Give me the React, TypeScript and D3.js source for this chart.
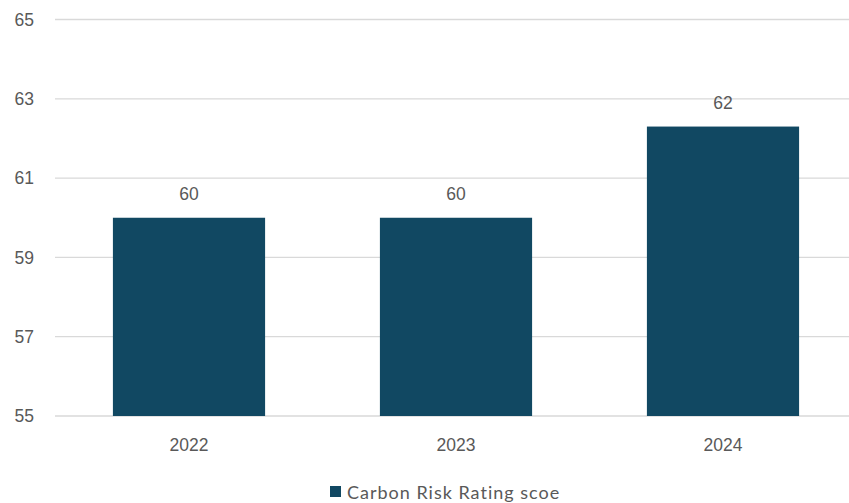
import React from "react";
import * as d3 from "d3";

const years = ["2022", "2023", "2024"];
const scores = [60, 60, 62.3];
const labels = ["60", "60", "62"];
const yTicks = [55, 57, 59, 61, 63, 65];
const seriesName = "Carbon Risk Rating scoe";

const W = 849;
const H = 503;
const barColor = "#114862";
const textColor = "#595959";

export default function App() {
    const x = d3.scaleBand().domain(years).range([55.5, 856.5]).paddingInner(0.43).paddingOuter(0.215);
    const y = d3.scaleLinear().domain([55, 65]).range([416, 19.5]);

    return (
        <svg width={W} height={H} style={{position: "absolute", left: 0, top: 0, background: "#fff"}}
             fontFamily="Liberation Sans, Arial, sans-serif">
            {yTicks.map(t => (
                <g key={t}>
                    <line x1={55} x2={W} y1={y(t)} y2={y(t)} stroke="#d9d9d9" strokeWidth={1.3}/>
                    <text x={34} y={y(t)} dy="0.35em" textAnchor="end" fontSize={17.5} fill={textColor}>{t}</text>
                </g>
            ))}
            {years.map((yr, i) => (
                <g key={yr}>
                    <rect x={x(yr)} y={y(scores[i])} width={x.bandwidth()} height={y(55) - y(scores[i])} fill={barColor}/>
                    <text x={(x(yr) as number) + x.bandwidth() / 2} y={y(scores[i]) - 18} textAnchor="middle"
                          fontSize={17.5} fill={textColor}>{labels[i]}</text>
                    <text x={(x(yr) as number) + x.bandwidth() / 2} y={451} textAnchor="middle"
                          fontSize={17.5} fill={textColor}>{yr}</text>
                </g>
            ))}
            <rect x={330} y={486} width={11} height={11} fill={barColor}/>
            <text x={347} y={499} fontSize={18} letterSpacing={1} fill={textColor}
                  fontFamily="Lato, sans-serif">{seriesName}</text>
        </svg>
    );
}
